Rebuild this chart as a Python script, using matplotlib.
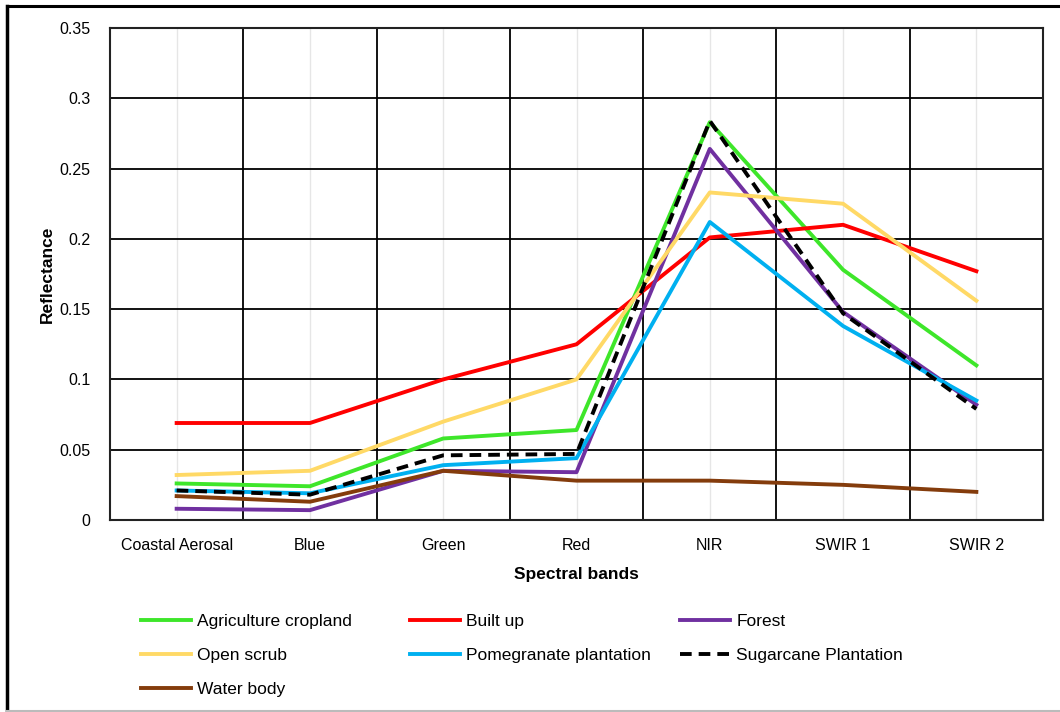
import numpy as np
import matplotlib.pyplot as plt
from matplotlib.lines import Line2D

plt.rcParams['font.family'] = ['Liberation Sans', 'DejaVu Sans']

bands = ["Coastal Aerosal", "Blue", "Green", "Red", "NIR", "SWIR 1", "SWIR 2"]

agri = [0.026, 0.024, 0.058, 0.064, 0.283, 0.178, 0.110]
built = [0.069, 0.069, 0.100, 0.125, 0.201, 0.210, 0.177]
forest = [0.008, 0.007, 0.035, 0.034, 0.264, 0.148, 0.082]
scrub = [0.032, 0.035, 0.070, 0.100, 0.233, 0.225, 0.156]
pome = [0.021, 0.019, 0.039, 0.044, 0.212, 0.138, 0.085]
sugar = [0.021, 0.018, 0.046, 0.047, 0.284, 0.147, 0.079]
water = [0.017, 0.013, 0.035, 0.028, 0.028, 0.025, 0.020]

x = np.arange(len(bands))

fig = plt.figure(figsize=(10.6, 7.12), dpi=100)
ax = fig.add_axes([110/1060, 1-520/712, (1043-110)/1060, (520-28)/712])

lw = 2.8
l_agri, = ax.plot(x, agri, color="#3EE62A", lw=lw, label="Agriculture cropland")
l_built, = ax.plot(x, built, color="#FF0000", lw=lw, label="Built up")
l_forest, = ax.plot(x, forest, color="#7030A0", lw=lw, label="Forest")
l_scrub, = ax.plot(x, scrub, color="#FFD966", lw=lw, label="Open scrub")
l_pome, = ax.plot(x, pome, color="#00B0F0", lw=lw, label="Pomegranate plantation")
l_sugar, = ax.plot(x, sugar, color="black", lw=lw, ls=(0, (3, 1.8)), label="Sugarcane Plantation")
l_water, = ax.plot(x, water, color="#843C0C", lw=lw, label="Water body")

ax.set_xlim(-0.5, len(bands) - 0.5)
ax.set_ylim(0, 0.35)
ax.set_yticks(np.arange(0, 0.351, 0.05))
ax.set_yticklabels(["0", "0.05", "0.1", "0.15", "0.2", "0.25", "0.3", "0.35"])
ax.set_xticks(x)
ax.set_xticklabels(bands)
ax.set_xticks(np.arange(-0.5, len(bands), 1), minor=True)
ax.tick_params(which="both", length=0, labelsize=11.5)
ax.tick_params(axis="x", pad=13)
ax.tick_params(axis="y", pad=14)

# grid: dark lines on band edges and y ticks, faint at band centres
ax.grid(True, which="minor", axis="x", color="black", lw=1.3)
ax.grid(True, which="major", axis="x", color="#e6e6e6", lw=1.0)
ax.grid(True, which="major", axis="y", color="black", lw=1.3)
ax.set_axisbelow(True)
for s in ax.spines.values():
    s.set_color("#222222")
    s.set_linewidth(1.5)

ax.set_xlabel("Spectral bands", fontsize=12.5, fontweight="bold", labelpad=10)
ax.set_ylabel("Reflectance", fontsize=12.5, fontweight="bold", labelpad=3)

# legend in three separate columns
cols = [([l_agri, l_scrub, l_water], 141), ([l_built, l_pome], 410), ([l_forest, l_sugar], 680)]
for handles, xpos in cols:
    leg = fig.legend(handles=handles, loc="upper left", bbox_to_anchor=(xpos/1060, 1-614/712),
                     frameon=False, fontsize=12.5, handlelength=2.9, handletextpad=0.35,
                     labelspacing=1.08, borderpad=0, borderaxespad=0)

# outer frame: top and left dark, bottom light
fig.lines.append(Line2D([7/1060, 1], [1-6/712, 1-6/712], transform=fig.transFigure, color="black", lw=2.2))
fig.lines.append(Line2D([7/1060, 7/1060], [0, 1-6/712], transform=fig.transFigure, color="black", lw=2.5))
fig.lines.append(Line2D([7/1060, 1], [1/712, 1/712], transform=fig.transFigure, color="#bbbbbb", lw=1.5))

fig.savefig("out.png", dpi=100)
